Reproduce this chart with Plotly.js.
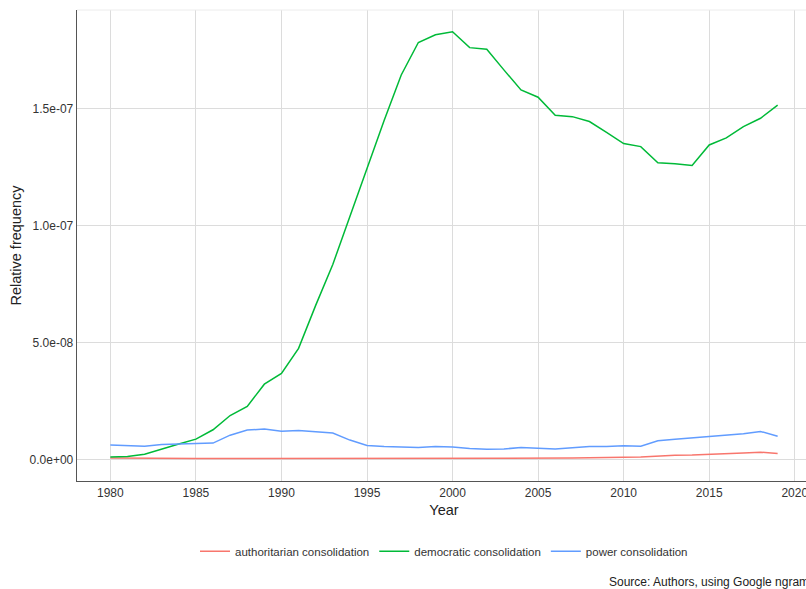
<!DOCTYPE html>
<html>
<head>
<meta charset="utf-8">
<script src="https://cdn.plot.ly/plotly-3.0.1.min.js"></script>
<style>
  html, body { margin: 0; padding: 0; overflow: hidden; background: #fff; }
  #chart { width: 817px; height: 589px; }
</style>
</head>
<body>
<div id="chart"></div>
<script>
const years = [1980,1981,1982,1983,1984,1985,1986,1987,1988,1989,
               1990,1991,1992,1993,1994,1995,1996,1997,1998,1999,
               2000,2001,2002,2003,2004,2005,2006,2007,2008,2009,
               2010,2011,2012,2013,2014,2015,2016,2017,2018,2019];

const authoritarian = [0.7e-9,0.6e-9,0.6e-9,0.5e-9,0.5e-9,0.5e-9,0.5e-9,0.5e-9,0.4e-9,0.4e-9,
                       0.4e-9,0.4e-9,0.5e-9,0.5e-9,0.5e-9,0.5e-9,0.5e-9,0.5e-9,0.5e-9,0.5e-9,
                       0.5e-9,0.5e-9,0.5e-9,0.5e-9,0.6e-9,0.6e-9,0.6e-9,0.7e-9,0.8e-9,0.8e-9,
                       1.1e-9,1.2e-9,1.6e-9,1.9e-9,2.0e-9,2.4e-9,2.7e-9,2.9e-9,3.2e-9,2.7e-9];

const democratic = [1.2e-9,1.4e-9,2.3e-9,4.6e-9,6.7e-9,8.8e-9,12.8e-9,18.9e-9,22.8e-9,32.3e-9,
                    36.9e-9,47.6e-9,66.0e-9,83.5e-9,104.0e-9,124.8e-9,145.0e-9,164.5e-9,178.4e-9,181.7e-9,
                    183.0e-9,176.2e-9,175.5e-9,166.7e-9,158.1e-9,155.0e-9,147.3e-9,146.7e-9,144.6e-9,140.0e-9,
                    135.2e-9,133.9e-9,127.0e-9,126.6e-9,125.8e-9,134.6e-9,137.6e-9,142.4e-9,146.0e-9,151.6e-9];

const power = [6.3e-9,6.0e-9,5.8e-9,6.5e-9,6.8e-9,6.8e-9,7.1e-9,10.5e-9,12.7e-9,13.1e-9,
               12.2e-9,12.5e-9,11.8e-9,11.4e-9,8.4e-9,6.1e-9,5.6e-9,5.5e-9,5.2e-9,5.6e-9,
               5.4e-9,4.8e-9,4.5e-9,4.6e-9,5.2e-9,4.9e-9,4.6e-9,5.1e-9,5.6e-9,5.6e-9,
               6.0e-9,5.8e-9,8.1e-9,8.8e-9,9.4e-9,9.8e-9,10.5e-9,11.1e-9,12.1e-9,10.0e-9];

const seriesNames = ["authoritarian consolidation", "democratic consolidation", "power consolidation"];
const seriesColors = ["#F8766D", "#00BA38", "#619CFF"];

const xTickVals = [1980,1985,1990,1995,2000,2005,2010,2015,2020];
const yTickVals = [0, 5e-8, 1e-7, 1.5e-7];
const yTickText = ["0.0e+00", "5.0e-08", "1.0e-07", "1.5e-07"];

const FONT = "Liberation Sans, Arial, Helvetica, sans-serif";

const data = [authoritarian, democratic, power].map((ys, i) => ({
  type: "scatter",
  mode: "lines",
  x: years,
  y: ys,
  name: seriesNames[i],
  line: { color: seriesColors[i], width: 1.5 },
  hoverinfo: "x+y+name"
}));

const layout = {
  width: 817,
  height: 589,
  margin: { l: 77, r: 6, t: 10, b: 108 },
  paper_bgcolor: "#ffffff",
  plot_bgcolor: "#ffffff",
  font: { family: FONT, size: 12, color: "#333333" },
  showlegend: true,
  legend: {
    orientation: "h",
    x: 0.5, xanchor: "center",
    y: -0.149, yanchor: "middle",
    font: { family: FONT, size: 11.5, color: "#333333" },
    bgcolor: "rgba(0,0,0,0)"
  },
  xaxis: {
    range: [1978.05, 2020.95],
    tickvals: xTickVals,
    ticktext: xTickVals.map(String),
    showgrid: true,
    gridcolor: "#dcdcdc",
    gridwidth: 1,
    zeroline: false,
    showline: true,
    linecolor: "#555555",
    linewidth: 1.3,
    ticks: "",
    tickfont: { family: FONT, size: 12, color: "#333333" },
    title: { text: "Year", font: { family: FONT, size: 14.5, color: "#222222" }, standoff: 6 }
  },
  yaxis: {
    range: [-9.1e-9, 1.923e-7],
    tickvals: yTickVals,
    ticktext: yTickText,
    showgrid: true,
    gridcolor: "#dcdcdc",
    gridwidth: 1,
    zeroline: false,
    showline: true,
    linecolor: "#555555",
    linewidth: 1.3,
    ticks: "",
    tickfont: { family: FONT, size: 12, color: "#333333" },
    title: { text: "Relative frequency", font: { family: FONT, size: 14.5, color: "#222222" }, standoff: 4 }
  },
  shapes: [{
    type: "line", xref: "paper", yref: "paper",
    x0: 0, x1: 1, y0: 1, y1: 1,
    line: { color: "#ececec", width: 1 }
  }],
  annotations: [{
    text: "Source: Authors, using Google ngram",
    xref: "paper", yref: "paper",
    x: 1, xanchor: "right",
    y: -0.2144, yanchor: "middle",
    showarrow: false,
    font: { family: FONT, size: 12, color: "#222222" }
  }]
};

Plotly.newPlot("chart", data, layout, { displayModeBar: false, staticPlot: true });
</script>
</body>
</html>
